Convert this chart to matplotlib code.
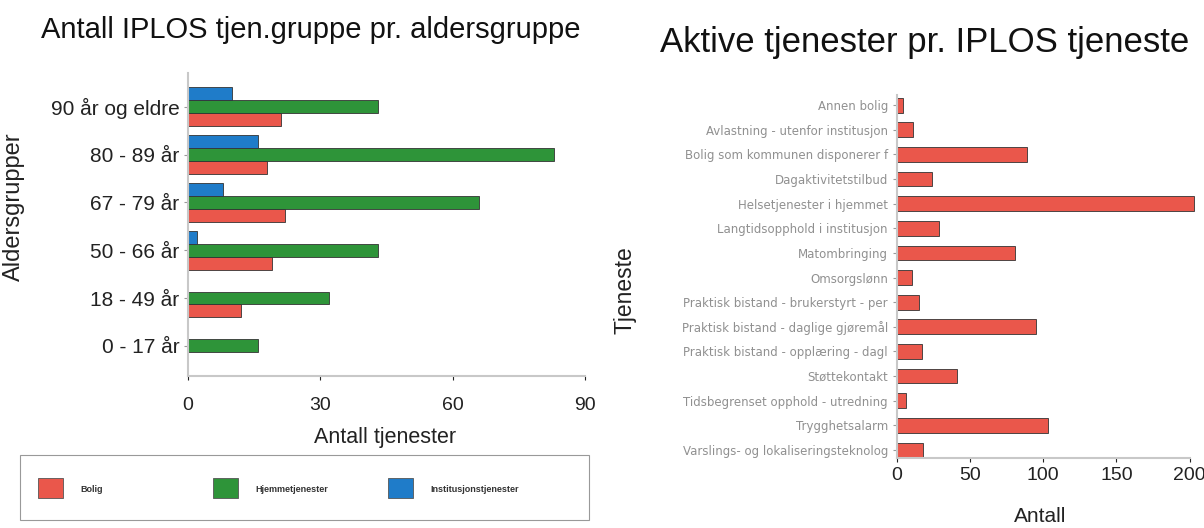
import matplotlib
matplotlib.use('Agg')
import matplotlib.pyplot as plt
from matplotlib.patches import Rectangle
import numpy as np

plt.rcParams['font.family'] = ['Liberation Sans', 'DejaVu Sans']

# Left chart: services per age group
age_groups = ['0 - 17 år', '18 - 49 år', '50 - 66 år', '67 - 79 år', '80 - 89 år', '90 år og eldre']
bolig = [0, 12, 19, 22, 18, 21]
hjemmetjenester = [16, 32, 43, 66, 83, 43]
institusjonstjenester = [0, 0, 2, 8, 16, 10]
series_names = ['Bolig', 'Hjemmetjenester', 'Institusjonstjenester']

# Right chart: active services per IPLOS service
tjenester = ['Annen bolig', 'Avlastning - utenfor institusjon', 'Bolig som kommunen disponerer f',
             'Dagaktivitetstilbud', 'Helsetjenester i hjemmet', 'Langtidsopphold i institusjon',
             'Matombringing', 'Omsorgslønn', 'Praktisk bistand - brukerstyrt - per',
             'Praktisk bistand - daglige gjøremål', 'Praktisk bistand - opplæring - dagl',
             'Støttekontakt', 'Tidsbegrenset opphold - utredning', 'Trygghetsalarm',
             'Varslings- og lokaliseringsteknolog']
antall = [4, 11, 89, 24, 203, 29, 81, 10, 15, 95, 17, 41, 6, 103, 18]

red = '#ea574b'
green = '#2e9439'
blue = '#1f7cc9'
edge = '#333333'
spine_col = '#c8c8c8'
txt = '#222222'

fig = plt.figure(figsize=(12.04, 5.28), dpi=100)

# ---- left chart ----
ax1 = fig.add_axes([0.156, 0.288, 0.330, 0.574])
y = np.arange(len(age_groups))
h = 0.27
ax1.barh(y - h, bolig, height=h, color=red, edgecolor=edge, linewidth=0.6)
ax1.barh(y, hjemmetjenester, height=h, color=green, edgecolor=edge, linewidth=0.6)
ax1.barh(y + h, institusjonstjenester, height=h, color=blue, edgecolor=edge, linewidth=0.6)
ax1.set_xlim(0, 90)
ax1.set_ylim(-0.63, 5.71)
ax1.set_xticks([0, 30, 60, 90])
ax1.set_yticks(y)
ax1.set_yticklabels(age_groups, fontsize=15, color=txt)
ax1.tick_params(axis='x', labelsize=14, colors=txt, length=3, pad=12)
ax1.tick_params(axis='y', length=3, color='#999999', pad=3)
for s in ['top', 'right']:
    ax1.spines[s].set_visible(False)
for s in ['left', 'bottom']:
    ax1.spines[s].set_color(spine_col)
    ax1.spines[s].set_linewidth(1.5)
ax1.set_xlabel('Antall tjenester', fontsize=15.5, color=txt)
ax1.xaxis.set_label_coords(0.496, -0.168)
ax1.set_ylabel('Aldersgrupper', fontsize=17, color=txt)
ax1.yaxis.set_label_coords(-0.41, 0.558)
fig.text(0.258, 0.943, 'Antall IPLOS tjen.gruppe pr. aldersgruppe', fontsize=21,
         ha='center', va='center', color='#111111')

# legend box below the left chart
fig.add_artist(Rectangle((0.0166, 0.0152), 0.473, 0.123, transform=fig.transFigure,
                         facecolor='none', edgecolor='#999999', linewidth=0.8))
sq_x = [38, 213, 388]
for sx, col, name in zip(sq_x, (red, green, blue), series_names):
    fig.add_artist(Rectangle((sx / 1204, 1 - 498 / 528), 25 / 1204, 20 / 528,
                             transform=fig.transFigure, facecolor=col,
                             edgecolor='#555555', linewidth=0.6))
    fig.text((sx + 42) / 1204, 1 - 490 / 528, name, fontsize=6.5, color='#333333',
             ha='left', va='center', fontweight='bold')

# ---- right chart ----
ax2 = fig.add_axes([0.745, 0.133, 0.243, 0.687])
y2 = np.arange(len(tjenester))
ax2.barh(y2, antall, height=0.6, color=red, edgecolor=edge, linewidth=0.6, clip_on=False)
ax2.set_xlim(0, 200)
ax2.set_ylim(len(tjenester) - 1 + 0.32, -0.41)
ax2.set_xticks([0, 50, 100, 150, 200])
ax2.set_yticks(y2)
ax2.set_yticklabels(tjenester, fontsize=8.5, color='#909090', family='DejaVu Sans')
ax2.tick_params(axis='x', labelsize=14, colors=txt, length=3)
ax2.tick_params(axis='y', length=3, color='#999999')
for s in ['top', 'right']:
    ax2.spines[s].set_visible(False)
for s in ['left', 'bottom']:
    ax2.spines[s].set_color(spine_col)
    ax2.spines[s].set_linewidth(1.5)
ax2.set_xlabel('Antall', fontsize=15, color=txt)
ax2.xaxis.set_label_coords(0.488, -0.135)
ax2.set_ylabel('Tjeneste', fontsize=16.5, color=txt)
ax2.yaxis.set_label_coords(-0.89, 0.463)
fig.text(0.768, 0.920, 'Aktive tjenester pr. IPLOS tjeneste', fontsize=25,
         ha='center', va='center', color='#111111')

fig.savefig('out.png', dpi=100)
